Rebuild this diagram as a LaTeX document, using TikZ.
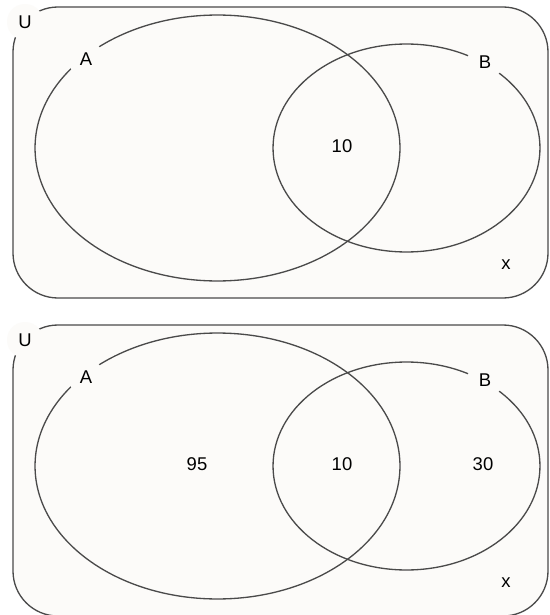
\documentclass[tikz,border=0pt]{standalone}
\usepackage{fontspec}
\setmainfont{Liberation Sans}
\definecolor{panelfill}{HTML}{FCFBF9}
\definecolor{inkgray}{HTML}{4A4A4A}
\tikzset{
  panel/.style={draw=inkgray, fill=panelfill, line width=0.75pt, rounded corners=0.9cm},
  setline/.style={draw=inkgray, line width=0.75pt},
  setlabel/.style={circle, fill=panelfill, inner sep=0pt, minimum size=0.72cm,
                   font=\fontsize{10.5}{12}\selectfont},
  count/.style={font=\fontsize{10.5}{12}\selectfont}
}

\begin{document}
\begin{tikzpicture}[x=0.02cm, y=-0.02cm]
  \useasboundingbox[fill=white] (0,0) rectangle (550,615);
  % two panels, the second one shifted down
  \foreach \dy/\p in {0/top, 318/bot} {
    \begin{scope}[shift={(0,\dy)}]
      \draw[panel] (13,7) rectangle (548,298);
      \draw[setline] (217.5,148) ellipse [x radius=3.65cm, y radius=2.66cm];
      \draw[setline] (406.5,148) ellipse [x radius=2.67cm, y radius=2.08cm];
      \node[setlabel] (U-\p) at (25,22) {U};
      \node[setlabel] (A-\p) at (86,59) {A};
      \node[setlabel] (B-\p) at (485,62) {B};
      \node[count] (x-\p) at (506,265) {x};
      \node[count] (AB-\p) at (342,146) {10};
    \end{scope}
  }
  \node[count] (onlyA) at (197,464) {95};
  \node[count] (onlyB) at (483,464) {30};
\end{tikzpicture}
\end{document}
